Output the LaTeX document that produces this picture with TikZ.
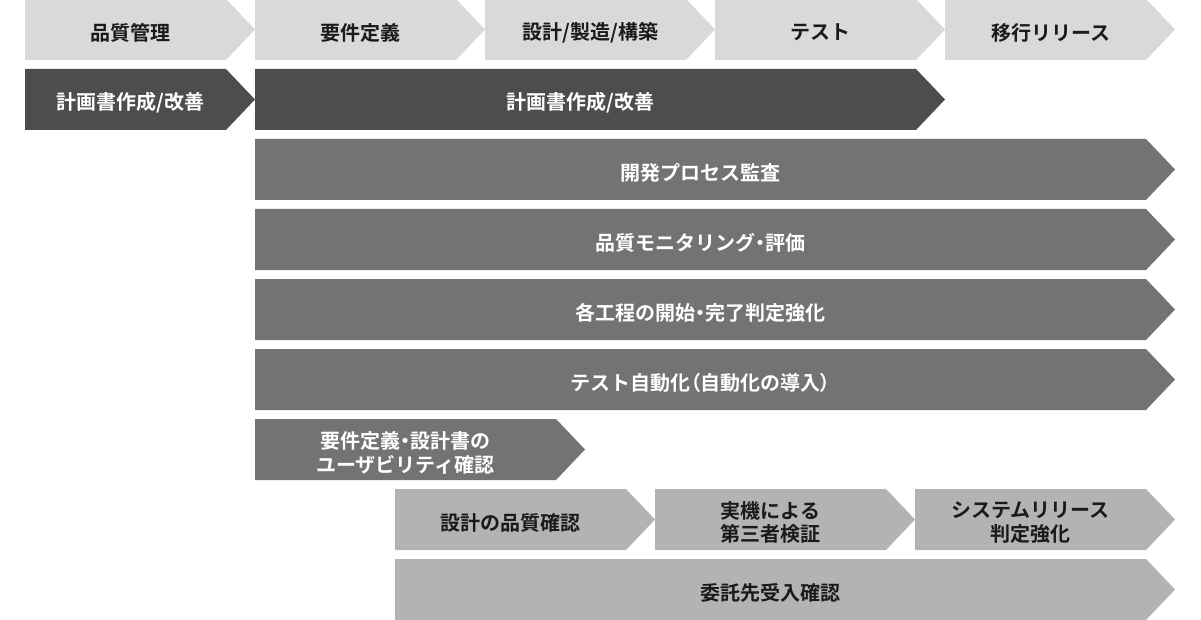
\documentclass[tikz,border=0pt]{standalone}
\usepackage{fontspec}
\usepackage{tikz}
\usetikzlibrary{positioning}
\newfontfamily\jp{Noto Sans CJK JP}[UprightFont=* Bold,BoldFont=* Bold]
\definecolor{PhaseGray}{RGB}{217,217,217}
\definecolor{PlanGray}{RGB}{77,77,77}
\definecolor{TaskGray}{RGB}{115,115,115}
\definecolor{CheckGray}{RGB}{179,179,179}
\definecolor{Ink}{RGB}{26,26,26}
\newcommand{\nakadot}{{\addfontfeature{RawFeature=+palt}・}}
\newcommand{\lparen}{{\addfontfeature{RawFeature=+palt}（}}
\newcommand{\rparen}{{\addfontfeature{RawFeature=+palt}）}}
% [#1] extra label options, #2 name, #3 left, #4 tip, #5 top, #6 style, #7 text
\newcommand{\chevron}[7][]{%
  \fill[#6] (#3,#5) -- ({#4-29},#5) -- (#4,{#5+30.5})
    -- ({#4-29},{#5+61}) -- (#3,{#5+61}) -- cycle;
  \node[#6label,#1] (#2) at ({(#3+#4-29)/2},{#5+30.5}) {#7};
}

\begin{document}
\begin{tikzpicture}[x=0.75pt,y=-0.75pt,
    phase/.style={fill=PhaseGray},
    plan/.style={fill=PlanGray},
    task/.style={fill=TaskGray},
    check/.style={fill=CheckGray},
    jptext/.style={font=\jp\fontsize{15}{17.5}\selectfont,align=center,
      inner sep=0pt,yshift=-2.4pt},
    phaselabel/.style={jptext,text=Ink,xshift=3.8pt},
    planlabel/.style={jptext,text=white},
    tasklabel/.style={jptext,text=white},
    checklabel/.style={jptext,text=Ink}]
  \useasboundingbox (0,0) rectangle (1201,620);
  \fill[white] (0,0) rectangle (1201,620);
  % phases
  \chevron{qm}{25}{255}{-1}{phase}{品質管理}
  \chevron{req}{255}{485}{-1}{phase}{要件定義}
  \chevron{dev}{485}{715}{-1}{phase}{設計/製造/構築}
  \chevron{test}{715}{945}{-1}{phase}{テスト}
  \chevron{rel}{945}{1175}{-1}{phase}{移行リリース}
  % plans
  \chevron[xshift=3.8pt]{planqm}{25}{255}{69}{plan}{計画書作成/改善}
  \chevron[xshift=-4pt]{plan}{255}{945}{69}{plan}{計画書作成/改善}
  % measures over all phases
  \foreach \i/\t in {1/開発プロセス監査,2/品質モニタリング\nakadot 評価,
      3/各工程の開始\nakadot 完了判定強化,4/テスト自動化\lparen 自動化の導入\rparen}
    \chevron{task\i}{255}{1175}{69+70*\i}{task}{\t};
  \chevron{usab}{255}{585}{419}{task}{要件定義\nakadot 設計書の\\ユーザビリティ確認}
  % checks
  \chevron{dq}{395}{655}{489}{check}{設計の品質確認}
  \chevron{third}{655}{915}{489}{check}{実機による\\第三者検証}
  \chevron{judge}{915}{1175}{489}{check}{システムリリース\\判定強化}
  \chevron{accept}{395}{1175}{559}{check}{委託先受入確認}
\end{tikzpicture}
\end{document}
